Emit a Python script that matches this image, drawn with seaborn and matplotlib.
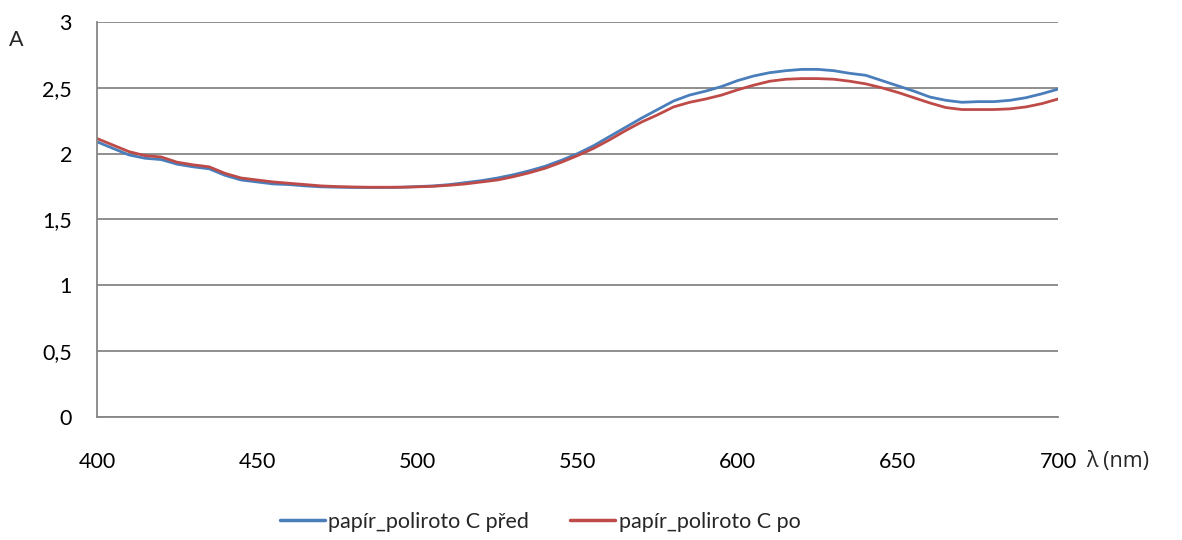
import matplotlib
matplotlib.use("Agg")
import matplotlib.pyplot as plt
import seaborn as sns
import pandas as pd
import numpy as np

# Absorbance spectra of the paper sample before and after treatment
wavelength = list(range(400, 701, 5))

a_before = [2.09, 2.04, 1.99, 1.965, 1.955, 1.92, 1.90, 1.885, 1.835, 1.80,
            1.785, 1.77, 1.765, 1.755, 1.748, 1.745, 1.743, 1.743, 1.743, 1.745,
            1.75, 1.755, 1.765, 1.78, 1.795, 1.815, 1.84, 1.87, 1.905, 1.95,
            2.00, 2.06, 2.13, 2.20, 2.27, 2.335, 2.40, 2.445, 2.475, 2.51,
            2.555, 2.59, 2.615, 2.63, 2.64, 2.64, 2.63, 2.61, 2.595, 2.555,
            2.515, 2.475, 2.43, 2.405, 2.39, 2.395, 2.395, 2.405, 2.425, 2.455,
            2.49]

a_after = [2.115, 2.065, 2.015, 1.985, 1.975, 1.935, 1.915, 1.90, 1.85, 1.815,
           1.80, 1.785, 1.775, 1.765, 1.755, 1.75, 1.747, 1.745, 1.745, 1.745,
           1.748, 1.752, 1.76, 1.77, 1.785, 1.80, 1.825, 1.855, 1.89, 1.935,
           1.985, 2.04, 2.105, 2.175, 2.24, 2.295, 2.355, 2.39, 2.415, 2.445,
           2.485, 2.52, 2.55, 2.565, 2.57, 2.57, 2.565, 2.55, 2.53, 2.50,
           2.465, 2.425, 2.385, 2.35, 2.335, 2.335, 2.335, 2.34, 2.355, 2.38,
           2.415]

series_names = ["papír_poliroto C před", "papír_poliroto C po"]
series_colors = ["#4A7EBB", "#BE4B48"]

x_ticks = [400, 450, 500, 550, 600, 650, 700]
y_ticks = [0, 0.5, 1, 1.5, 2, 2.5, 3]
y_tick_labels = ["0", "0,5", "1", "1,5", "2", "2,5", "3"]

df = pd.DataFrame({
    "lambda": wavelength * 2,
    "A": a_before + a_after,
    "series": [series_names[0]] * len(wavelength) + [series_names[1]] * len(wavelength),
})

sns.set_theme(style="white")
plt.rcParams["font.family"] = ["Lato", "DejaVu Sans"]
fs = 15.5

fig = plt.figure(figsize=(11.82, 5.40), dpi=100)
ax = fig.add_axes([0.0821, 0.2278, 0.8130, 0.7315])

grid_color = "#868686"
sns.lineplot(data=df, x="lambda", y="A", hue="series", hue_order=series_names,
             palette=series_colors, linewidth=2.0, ax=ax, legend=False)

ax.set_xlim(400, 700)
ax.set_ylim(0, 3)
ax.set_xticks(x_ticks)
ax.set_xticklabels([str(t) for t in x_ticks])
ax.set_yticks(y_ticks)
ax.set_yticklabels(y_tick_labels)
ax.set_xlabel("")
ax.set_ylabel("")

ax.yaxis.grid(True, color=grid_color, linewidth=1.3)
ax.xaxis.grid(False)
ax.set_axisbelow(True)
for side in ["top", "right"]:
    ax.spines[side].set_visible(False)
for side in ["left", "bottom"]:
    ax.spines[side].set_color(grid_color)
    ax.spines[side].set_linewidth(1.3)

ax.tick_params(axis="both", which="major", direction="out", length=7,
               width=1.3, color=grid_color, labelsize=fs, labelcolor="black")
ax.tick_params(axis="y", pad=11)
ax.tick_params(axis="x", pad=18)

fig.text(9 / 1182, 1 - 40 / 540, "A", fontsize=fs, ha="left", va="center")
fig.text(1086 / 1182, 1 - 462 / 540, "λ (nm)", fontsize=fs, ha="left",
         va="center", family=["Open Sans", "DejaVu Sans"])

handles = [plt.Line2D([], [], color=c, linewidth=2.5) for c in series_colors]
fig.legend(handles, series_names, loc="center", bbox_to_anchor=(0.457, 1 - 522 / 540),
           ncol=2, frameon=False, fontsize=fs, handlelength=2.1,
           handletextpad=0.15, columnspacing=1.9)

fig.savefig("out.png", dpi=100)
